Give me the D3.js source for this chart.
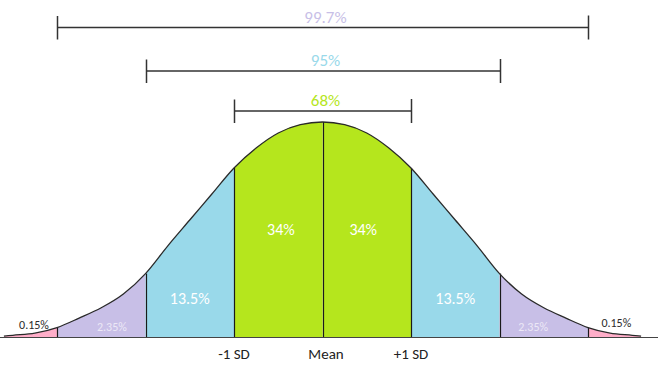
<!DOCTYPE html>
<html>
<head>
<meta charset="utf-8">
<script src="https://cdn.jsdelivr.net/npm/d3@7"></script>
<style>
  html, body { margin: 0; padding: 0; background: #fff; }
  svg { display: block; font-family: Carlito, Lato, "Open Sans", sans-serif; }
</style>
</head>
<body>
<svg id="chart" width="658" height="372"></svg>
<script>
// ---- data ----
// positions in standard deviations from the mean
const sdPositions = [-3.6, -3.5, -3.25, -3, -2.75, -2.5, -2.25, -2, -1.75, -1.5, -1.25, -1, -0.75, -0.5, -0.25,
                     0, 0.25, 0.5, 0.75, 1, 1.25, 1.5, 1.75, 2, 2.25, 2.5, 2.75, 3, 3.25, 3.5, 3.6];
// curve height, percent of the peak height
const curveHeights = [0.4, 0.8, 1.8, 4.4, 8.8, 13.6, 20, 29.5, 42.3, 54.4, 66.5, 78.6, 87.9, 94.9, 98.8,
                      100, 98.8, 94.9, 87.9, 78.6, 66.5, 54.4, 42.3, 29.5, 20, 13.6, 8.8, 4.4, 1.8, 0.8, 0.4];

const bandStarts = [-3.6, -3, -2, -1, 0, 1, 2, 3];
const bandEnds   = [-3, -2, -1, 0, 1, 2, 3, 3.6];
const bandColors = ["#ffaec9", "#c8bfe7", "#99d9ea", "#b5e61d", "#b5e61d", "#99d9ea", "#c8bfe7", "#ffaec9"];

const dividers = [-3, -2, -1, 0, 1, 2, 3];

const bandLabels   = ["0.15%", "2.35%", "13.5%", "34%", "34%", "13.5%", "2.35%", "0.15%"];
const bandLabelSd  = [-3.26, -2.38, -1.5, -0.47, 0.46, 1.5, 2.38, 3.32];
const bandLabelY   = [5.5, 4.8, 18, 50, 50, 18, 4.6, 6.5];

const spanLabels = ["99.7%", "95%", "68%"];
const spanWidths = [3, 2, 1];
const spanColors = ["#c8bfe7", "#99d9ea", "#b5e61d"];

const axisLabels = ["-1 SD", "Mean", "+1 SD"];
const axisLabelSd = [-1, 0.04, 1];

// ---- drawing ----
const svg = d3.select("#chart");
const W = 658, H = 372;

const x = d3.scaleLinear().domain([-3, 3]).range([57, 588]);
const y = d3.scaleLinear().domain([0, 100]).range([337, 122]);

const pts = sdPositions.map((s, i) => ({ s, v: curveHeights[i] }));

const area = d3.area().x(d => x(d.s)).y0(y(0)).y1(d => y(d.v)).curve(d3.curveMonotoneX);
const line = d3.line().x(d => x(d.s)).y(d => y(d.v)).curve(d3.curveMonotoneX);

const defs = svg.append("defs");
bandStarts.forEach((a, i) => {
  defs.append("clipPath").attr("id", "band" + i)
    .append("rect")
    .attr("x", x(a)).attr("y", 0)
    .attr("width", x(bandEnds[i]) - x(a)).attr("height", H);
});

// band fills
bandStarts.forEach((a, i) => {
  svg.append("path")
    .attr("d", area(pts))
    .attr("fill", bandColors[i])
    .attr("clip-path", `url(#band${i})`);
});

// baseline
svg.append("line")
  .attr("x1", 0).attr("x2", W)
  .attr("y1", y(0) + 0.5).attr("y2", y(0) + 0.5)
  .attr("stroke", "#444").attr("stroke-width", 1);

// dividers
dividers.forEach(s => {
  const i = sdPositions.indexOf(s);
  svg.append("line")
    .attr("x1", Math.round(x(s)) + 0.5).attr("x2", Math.round(x(s)) + 0.5)
    .attr("y1", y(curveHeights[i])).attr("y2", y(0))
    .attr("stroke", "#1a1a1a").attr("stroke-width", 1.2);
});

// curve outline
svg.append("path")
  .attr("d", line(pts))
  .attr("fill", "none")
  .attr("stroke", "#2a2a2a")
  .attr("stroke-width", 1.3);

// band labels
bandLabels.forEach((t, i) => {
  const outer = i === 0 || i === 7;
  const small = outer || i === 1 || i === 6;
  svg.append("text")
    .attr("x", x(bandLabelSd[i]))
    .attr("y", y(bandLabelY[i]))
    .attr("text-anchor", "middle")
    .attr("dominant-baseline", "central")
    .attr("font-size", small ? 12 : 16)
    .attr("fill", outer ? "#2b2b2b" : (small ? "#ece8f6" : "#ffffff"))
    .text(t);
});

// span brackets
const spanY = [27.5, 71, 111];
spanLabels.forEach((t, i) => {
  const w = spanWidths[i];
  const g = svg.append("g");
  const yy = spanY[i];
  const x1 = Math.round(x(-w)) + 0.5, x2 = Math.round(x(w)) + 0.5;
  g.append("line").attr("x1", x1).attr("x2", x2).attr("y1", yy).attr("y2", yy)
    .attr("stroke", "#333").attr("stroke-width", 1.5);
  g.append("line").attr("x1", x1).attr("x2", x1).attr("y1", yy - 11.5).attr("y2", yy + 12)
    .attr("stroke", "#333").attr("stroke-width", 1.5);
  g.append("line").attr("x1", x2).attr("x2", x2).attr("y1", yy - 12).attr("y2", yy + 12)
    .attr("stroke", "#333").attr("stroke-width", 1.5);
  g.append("text")
    .attr("x", x(0) + 3)
    .attr("y", yy - 5)
    .attr("text-anchor", "middle")
    .attr("font-size", 17)
    .attr("fill", spanColors[i])
    .text(t);
});

// axis labels
axisLabels.forEach((t, i) => {
  svg.append("text")
    .attr("x", x(axisLabelSd[i]))
    .attr("y", 359)
    .attr("text-anchor", "middle")
    .attr("font-size", 15)
    .attr("fill", "#222")
    .text(t);
});
</script>
</body>
</html>
